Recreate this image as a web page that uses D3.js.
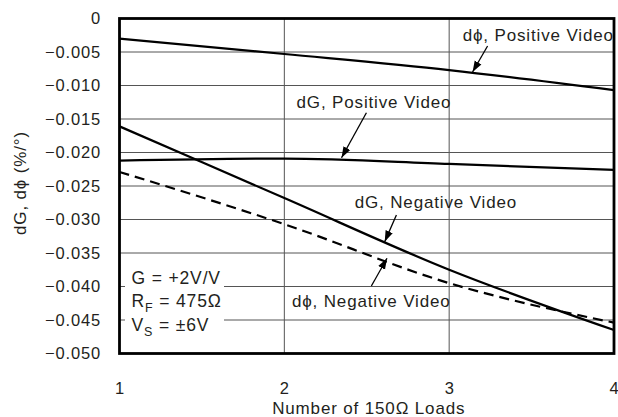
<!DOCTYPE html>
<html>
<head>
<meta charset="utf-8">
<script src="https://cdn.jsdelivr.net/npm/d3@7"></script>
<style>
  html, body { margin: 0; padding: 0; background: #fff; }
  svg { display: block; font-family: "Liberation Sans", Arial, Helvetica, sans-serif; }
  svg text { letter-spacing: 0.85px; }
</style>
</head>
<body>
<svg id="chart" width="618" height="417"></svg>
<script>
// ---- data ----
const loads = [1, 2, 3, 4];
const dPhiPositive = [-0.0030, -0.0053, -0.0077, -0.0107];
const dGPositive   = [-0.0212, -0.0209, -0.0217, -0.0226];
const dGNegative   = [-0.0161, -0.0268, -0.0375, -0.0465];
const dPhiNegative = [-0.0229, -0.0307, -0.0395, -0.0454];
const xTicks = [1, 2, 3, 4];
const yTicks = [0, -0.005, -0.010, -0.015, -0.020, -0.025, -0.030, -0.035, -0.040, -0.045, -0.050];
const xTitle = "Number of 150\u03A9 Loads";
const yTitle = "dG, d\u03D5 (%/\u00B0)";
// annotation labels and arrows, in data units
const annLabels = ["d\u03D5, Positive Video", "dG, Positive Video", "dG, Negative Video", "d\u03D5, Negative Video"];
const annText   = [[3.082, -0.00330], [2.074, -0.01340], [2.427, -0.02835], [2.046, -0.04300]];
const annFrom   = [[3.233, -0.00410], [2.498, -0.01406], [2.680, -0.02933], [2.528, -0.03993]];
const annTo     = [[3.142, -0.00799], [2.347, -0.02078], [2.609, -0.03331], [2.623, -0.03579]];
const condLines = ["G = +2V/V", "R|F| = 475\u03A9", "V|S| = \u00B16V"];

// ---- layout ----
const svg = d3.select("#chart");
const pL = 119.5, pR = 614, pT = 18.5, pB = 353.5;
const x = d3.scaleLinear().domain([1, 4]).range([pL, pR]);
const y = d3.scaleLinear().domain([0, -0.05]).range([pT, pB]);
const textColor = "#231f20";

// gridlines
const grid = svg.append("g");
grid.selectAll("line.h").data(yTicks.slice(1, -1)).join("line")
  .attr("x1", pL).attr("x2", pR)
  .attr("y1", d => y(d)).attr("y2", d => y(d))
  .attr("stroke", "#555").attr("stroke-width", 1);
grid.selectAll("line.v").data(xTicks.slice(1, -1)).join("line")
  .attr("y1", pT).attr("y2", pB)
  .attr("x1", d => x(d)).attr("x2", d => x(d))
  .attr("stroke", "#555").attr("stroke-width", 1);

// conditions box (white background hides gridlines)
svg.append("rect").attr("x", 125).attr("y", 263).attr("width", 99).attr("height", 88).attr("fill", "#fff");
const cond = svg.append("g").attr("fill", textColor).attr("font-size", 17.5);
condLines.forEach((s, i) => {
  const parts = s.split("|");
  const t = cond.append("text").attr("x", 131.5).attr("y", 283.5 + i * 23.5);
  t.append("tspan").text(parts[0]);
  if (parts.length > 1) {
    t.append("tspan").attr("font-size", 12.5).attr("dy", 5).text(parts[1]);
    t.append("tspan").attr("dy", -5).text(parts[2]);
  }
});

// series
const line = d3.line().x((d, i) => x(loads[i])).y(d => y(d)).curve(d3.curveMonotoneX);
const series = [
  {v: dPhiPositive, dash: null},
  {v: dGPositive, dash: null},
  {v: dGNegative, dash: null},
  {v: dPhiNegative, dash: "10,6"}
];
svg.append("g").selectAll("path").data(series).join("path")
  .attr("d", d => line(d.v))
  .attr("fill", "none").attr("stroke", "#000").attr("stroke-width", 2.2)
  .attr("stroke-dasharray", d => d.dash);

// frame
svg.append("rect").attr("x", pL).attr("y", pT).attr("width", pR - pL).attr("height", pB - pT)
  .attr("fill", "none").attr("stroke", "#000").attr("stroke-width", 2.8);

// arrow marker
svg.append("defs").append("marker").attr("id", "ah")
  .attr("viewBox", "0 0 10 10").attr("refX", 10).attr("refY", 5)
  .attr("markerWidth", 11).attr("markerHeight", 11).attr("markerUnits", "userSpaceOnUse")
  .attr("orient", "auto")
  .append("path").attr("d", "M0,1.5 L10,5 L0,8.5 Z").attr("fill", "#000");

// annotations
const ann = svg.append("g");
annLabels.forEach((s, i) => {
  ann.append("text").attr("x", x(annText[i][0])).attr("y", y(annText[i][1]))
    .attr("font-size", 17).attr("fill", textColor).text(s);
  ann.append("line")
    .attr("x1", x(annFrom[i][0])).attr("y1", y(annFrom[i][1]))
    .attr("x2", x(annTo[i][0])).attr("y2", y(annTo[i][1]))
    .attr("stroke", "#000").attr("stroke-width", 1.3).attr("marker-end", "url(#ah)");
});

// axes labels
svg.append("g").selectAll("text").data(yTicks).join("text")
  .attr("x", 101).attr("y", d => y(d)).attr("dy", "0.35em")
  .attr("text-anchor", "end").attr("font-size", 16.5).attr("fill", textColor)
  .text(d => d === 0 ? "0" : "\u2212" + Math.abs(d).toFixed(3));
svg.append("g").selectAll("text").data(xTicks).join("text")
  .attr("x", d => x(d) + 0.5).attr("y", 394)
  .attr("text-anchor", "middle").attr("font-size", 16.5).attr("fill", textColor)
  .text(d => d);
svg.append("text").attr("x", (pL + pR) / 2 + 2).attr("y", 414)
  .attr("text-anchor", "middle").attr("font-size", 17).attr("fill", textColor).text(xTitle);
svg.append("text").attr("transform", `translate(26,${(pT + pB) / 2 - 3}) rotate(-90)`)
  .attr("text-anchor", "middle").attr("font-size", 17).attr("fill", textColor).text(yTitle);
</script>
</body>
</html>
